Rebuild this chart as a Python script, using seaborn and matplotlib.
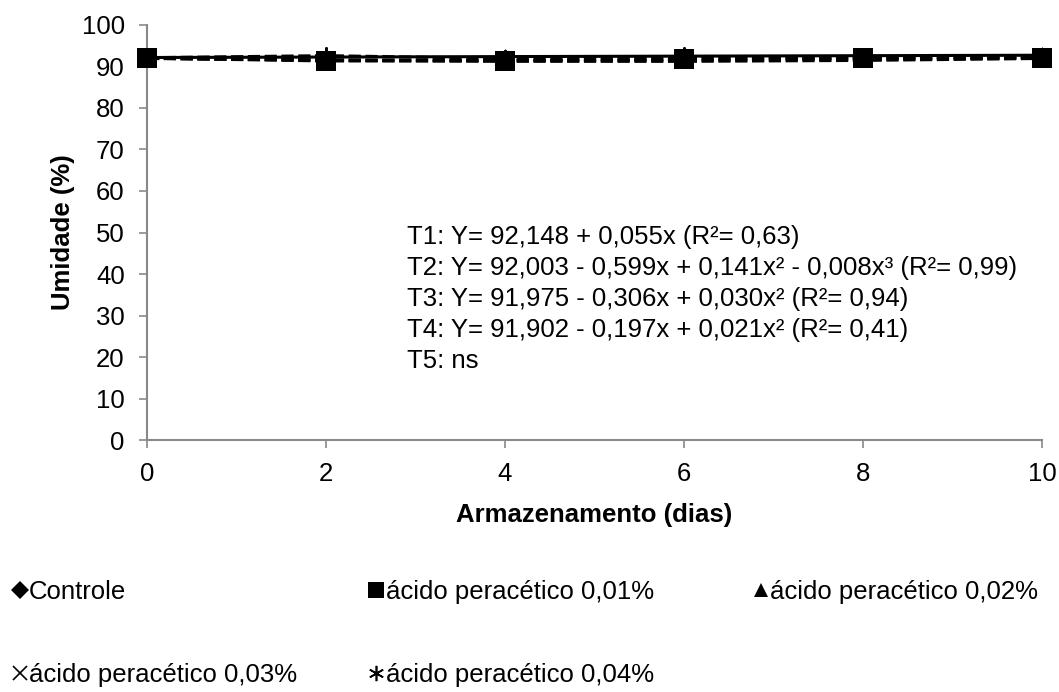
import matplotlib
matplotlib.use("Agg")
import matplotlib.pyplot as plt
import seaborn as sns
import pandas as pd
from matplotlib.lines import Line2D

# Storage days and moisture content (%) for each treatment
dias = [0, 2, 4, 6, 8, 10]
controle = [92.15, 92.26, 92.37, 92.48, 92.59, 92.70]
apa_001 = [92.00, 91.31, 91.35, 91.76, 92.14, 92.11]
apa_002 = [91.98, 91.48, 91.23, 91.22, 91.45, 91.92]
apa_003 = [91.90, 91.59, 91.45, 91.50, 91.73, 92.03]
apa_004 = [92.10, 92.60, 91.90, 92.40, 92.00, 92.30]

nomes = ["Controle", "ácido peracético 0,01%", "ácido peracético 0,02%",
         "ácido peracético 0,03%", "ácido peracético 0,04%"]
series = [controle, apa_001, apa_002, apa_003, apa_004]

equacoes = [
    "T1: Y= 92,148 + 0,055x (R²= 0,63)",
    "T2: Y= 92,003 - 0,599x + 0,141x² - 0,008x³ (R²= 0,99)",
    "T3: Y= 91,975 - 0,306x + 0,030x² (R²= 0,94)",
    "T4: Y= 91,902 - 0,197x + 0,021x² (R²= 0,41)",
    "T5: ns",
]

df = pd.DataFrame(
    [(d, v, n) for n, s in zip(nomes, series) for d, v in zip(dias, s)],
    columns=["dias", "umidade", "tratamento"],
)

sns.set_theme(style="white")
plt.rcParams["font.family"] = ["Liberation Sans", "DejaVu Sans"]
plt.rcParams["text.color"] = "black"
plt.rcParams["axes.labelcolor"] = "black"
plt.rcParams["xtick.color"] = "black"
plt.rcParams["ytick.color"] = "black"

FS = 18.5

fig = plt.figure(figsize=(10.59, 6.92), dpi=100)
ax = fig.add_axes([0.1388, 0.364, 0.8452, 0.600])

marcadores = ["D", "s", "^", "x", (6, 2, 0)]
tamanhos = [70, 190, 110, 110, 150]
estilos = ["-", (0, (4, 1.5)), (0, (4, 1.5)), (0, (4, 1.5)), (0, (4, 1.5))]
ordem = [1, 5, 2, 3, 4]

for nome, mk, sz, ls, z in zip(nomes, marcadores, tamanhos, estilos, ordem):
    sub = df[df["tratamento"] == nome]
    sns.lineplot(data=sub, x="dias", y="umidade", ax=ax, color="black",
                 linestyle=ls, linewidth=2.2, zorder=z)
    sns.scatterplot(data=sub, x="dias", y="umidade", ax=ax, color="black",
                    marker=mk, s=sz, linewidth=1.5 if mk in ("x", (6, 2, 0)) else 0,
                    edgecolor="black", zorder=z + 5, clip_on=False)

ax.set_xlim(0, 10)
ax.set_ylim(0, 100)
ax.set_xticks(dias)
ax.set_yticks(range(0, 101, 10))
ax.tick_params(axis="both", labelsize=FS, length=6, width=1.2,
               color="#898989", direction="out", pad=10, left=True, bottom=True)
for lado in ["top", "right"]:
    ax.spines[lado].set_visible(False)
for lado in ["left", "bottom"]:
    ax.spines[lado].set_color("#898989")
    ax.spines[lado].set_linewidth(1.5)

ax.set_xlabel("Armazenamento (dias)", fontsize=FS, fontweight="bold", labelpad=12)
ax.set_ylabel("Umidade (%)", fontsize=FS, fontweight="bold", labelpad=5)

for i, eq in enumerate(equacoes):
    ax.text(0.290, 0.489 - i * 0.0747, eq, transform=ax.transAxes,
            fontsize=FS, va="center", ha="left")

handles = [
    Line2D([], [], color="black", marker=mk, linestyle="none",
           markersize=ms, markeredgewidth=1.2 if mk in ("x", (6, 2, 0)) else 0)
    for mk, ms in zip(marcadores, [9, 11, 10.5, 10, 11])
]

# Legend laid out as fixed-width columns below the axes
colunas = [([0, 3], 0.010), ([1, 4], 0.347), ([2], 0.710)]
for idx, x0 in colunas:
    fig.legend([handles[i] for i in idx], [nomes[i] for i in idx],
               loc="upper left", bbox_to_anchor=(x0, 0.1618), ncol=1,
               frameon=False, fontsize=FS, handlelength=0.7,
               handletextpad=0.02, labelspacing=2.31, borderpad=0,
               borderaxespad=0)

fig.savefig("out.png", dpi=100)
